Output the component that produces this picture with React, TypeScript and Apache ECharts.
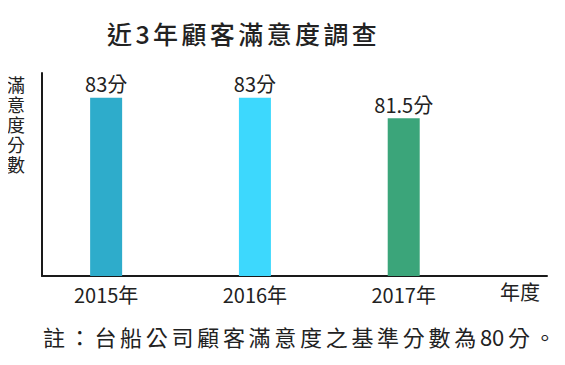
import React, { useEffect, useRef } from "react";
import * as echarts from "echarts";

const years = ["2015年", "2016年", "2017年"];
const scores = [83, 83, 81.5];
const barColors = ["#2EACCB", "#3DD8FD", "#3BA57A"];
const titleText = "近3年顧客滿意度調查";
const yName = "滿意度分數";
const xName = "年度";
const noteText = "註：台船公司顧客滿意度之基準分數為80分。";

const FONT = "'Noto Sans CJK TC', 'Noto Sans', sans-serif";

// wrap each CJK char (and each run of digits) as a rich token so it gets spacing
const spaced = (s: string) => (s.match(/[0-9]+|./gu) || []).map((c) => `{c|${c}}`).join("");

export default function App() {
  const ref = useRef<HTMLDivElement>(null);
  useEffect(() => {
    if (!ref.current) return;
    const chart = echarts.init(ref.current, undefined, { renderer: "svg" });
    chart.setOption({
      animation: false,
      backgroundColor: "#ffffff",
      textStyle: { fontFamily: FONT },
      grid: { left: 42, right: 18, top: 73, bottom: 89, containLabel: false },
      xAxis: {
        type: "value",
        min: -0.431,
        max: 2.963,
        splitLine: { show: false },
        axisTick: { show: false },
        axisLine: { show: true, onZero: false, lineStyle: { color: "#1a1a1a", width: 2 } },
        axisLabel: {
          color: "#222",
          fontSize: 20,
          margin: 8,
          showMinLabel: false,
          showMaxLabel: false,
          formatter: (v: number) => {
            const i = Math.round(v);
            return Math.abs(v - i) < 1e-6 && i >= 0 && i < years.length ? years[i] : "";
          },
        },
        name: xName,
        nameLocation: "end",
        nameGap: -47,
        nameTextStyle: {
          color: "#222",
          fontSize: 20,
          align: "left",
          verticalAlign: "top",
          padding: [6, 0, 0, 0],
        },
      },
      yAxis: {
        type: "value",
        min: 70,
        max: 84.8,
        splitLine: { show: false },
        axisTick: { show: false },
        axisLabel: { show: false },
        axisLine: { show: true, onZero: false, lineStyle: { color: "#1a1a1a", width: 2 } },
      },
      graphic: [
        {
          type: "text",
          left: 107,
          top: 20,
          style: {
            text: spaced(titleText),
            fill: "#222",
            font: `500 25px ${FONT}`,
            rich: { c: { fontSize: 25, fontWeight: 500, fontFamily: FONT, fill: "#222", padding: [0, 3.4, 0, 0] } },
          },
        },
        ...Array.from(yName).map((c, i) => ({
          type: "text",
          left: 7,
          top: 75 + i * 20,
          style: { text: c, fontSize: 18, lineHeight: 18, fill: "#222", fontFamily: FONT },
        })),
        {
          type: "text",
          left: 43,
          top: 325,
          style: {
            text: spaced(noteText),
            fill: "#222",
            fontSize: 22,
            fontFamily: FONT,
            rich: { c: { fontSize: 22, fontFamily: FONT, fill: "#222", padding: [0, 3.7, 0, 0] } },
          },
        },
      ],
      series: [
        {
          type: "bar",
          barWidth: 32,
          data: scores.map((s, i) => ({ value: [i, s], itemStyle: { color: barColors[i] } })),
          label: {
            show: true,
            position: "top",
            distance: 4,
            fontSize: 20,
            color: "#222",
            formatter: (p: any) => `${p.value[1]}分`,
          },
        },
      ],
    });
    return () => chart.dispose();
  }, []);
  return <div ref={ref} style={{ width: 565, height: 365, margin: -8 }} />;
}
